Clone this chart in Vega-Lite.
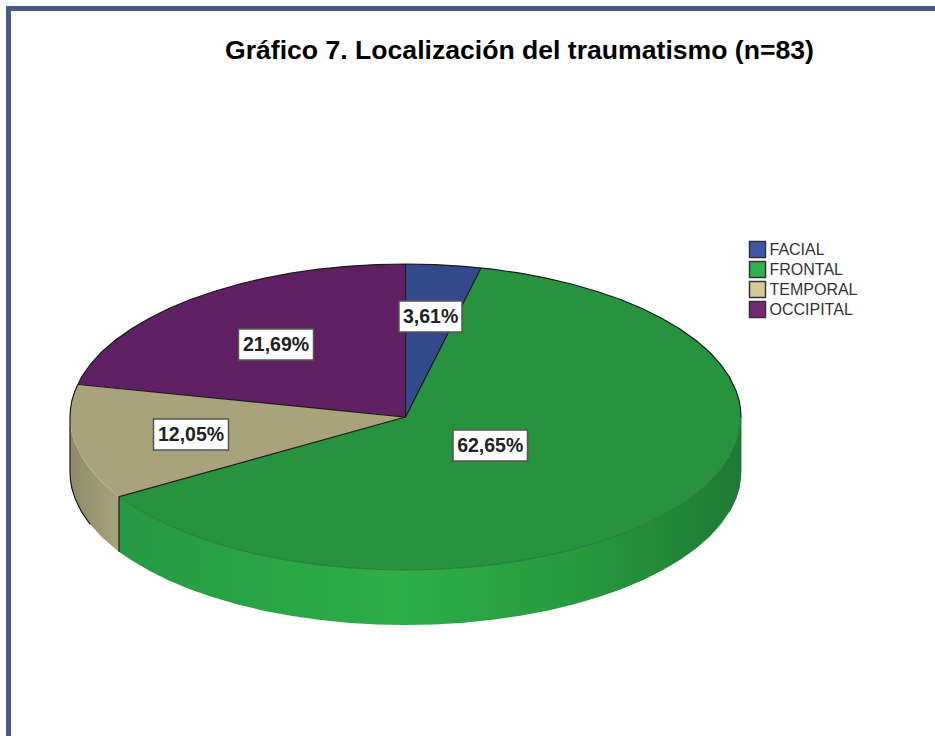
{
"$schema":"https://vega.github.io/schema/vega-lite/v6.json",
"width":935,"height":736,"padding":0,"autosize":{"type":"none"},
"background":"white",
"view":{"stroke":null},
"title":{"text":"Gráfico 7. Localización del traumatismo (n=83)","anchor":"start","frame":"group","orient":"top","offset":-65,"dx":225,"font":"Liberation Sans","fontSize":26.6,"fontWeight":"bold","color":"#000000"},
"config":{"axis":{"domain":false,"ticks":false,"labels":false,"grid":false,"title":null}},
"datasets":{
"frame":[{"x":8.5,"x2":960,"y":8.5,"y2":770}],
"shares":[
{"sector":"FACIAL","label":"3,61%","lx":430.6,"ly":316.5,"bx":399,"bx2":462,"by":301,"by2":332},
{"sector":"FRONTAL","label":"62,65%","lx":490.2,"ly":445.5,"bx":453,"bx2":527.5,"by":430,"by2":461},
{"sector":"TEMPORAL","label":"12,05%","lx":191,"ly":434.5,"bx":153.5,"bx2":228.5,"by":419,"by2":450},
{"sector":"OCCIPITAL","label":"21,69%","lx":276,"ly":344.5,"bx":238.5,"bx2":313.5,"by":329,"by2":360}
],
"walls":[
{"w":"TEMPORAL","x":70,"y":417,"y2":472},{"w":"TEMPORAL","x":70.5,"y":425,"y2":480},{"w":"TEMPORAL","x":71.8,"y":433,"y2":488},{"w":"TEMPORAL","x":75.1,"y":443.6,"y2":498.6},{"w":"TEMPORAL","x":81.4,"y":456.6,"y2":511.6},{"w":"TEMPORAL","x":90.2,"y":469.3,"y2":524.3},{"w":"TEMPORAL","x":101.4,"y":481.7,"y2":536.7},{"w":"TEMPORAL","x":114.9,"y":493.5,"y2":548.5},{"w":"TEMPORAL","x":119,"y":496.7,"y2":551.7},
{"w":"FRONTAL","x":119,"y":496.7,"y2":551.7},{"w":"FRONTAL","x":130.7,"y":504.8,"y2":559.8},{"w":"FRONTAL","x":148.5,"y":515.3,"y2":570.3},{"w":"FRONTAL","x":168.3,"y":525.2,"y2":580.2},{"w":"FRONTAL","x":189.8,"y":534.2,"y2":589.2},{"w":"FRONTAL","x":213.1,"y":542.3,"y2":597.3},{"w":"FRONTAL","x":237.7,"y":549.5,"y2":604.5},{"w":"FRONTAL","x":263.7,"y":555.7,"y2":610.7},{"w":"FRONTAL","x":290.8,"y":560.8,"y2":615.8},{"w":"FRONTAL","x":318.7,"y":564.8,"y2":619.8},{"w":"FRONTAL","x":347.2,"y":567.7,"y2":622.7},{"w":"FRONTAL","x":376.3,"y":569.4,"y2":624.4},{"w":"FRONTAL","x":405.5,"y":570,"y2":625},{"w":"FRONTAL","x":434.7,"y":569.4,"y2":624.4},{"w":"FRONTAL","x":463.8,"y":567.7,"y2":622.7},{"w":"FRONTAL","x":492.3,"y":564.8,"y2":619.8},{"w":"FRONTAL","x":520.2,"y":560.8,"y2":615.8},{"w":"FRONTAL","x":547.3,"y":555.7,"y2":610.7},{"w":"FRONTAL","x":573.3,"y":549.5,"y2":604.5},{"w":"FRONTAL","x":597.9,"y":542.3,"y2":597.3},{"w":"FRONTAL","x":621.2,"y":534.2,"y2":589.2},{"w":"FRONTAL","x":642.7,"y":525.2,"y2":580.2},{"w":"FRONTAL","x":662.5,"y":515.3,"y2":570.3},{"w":"FRONTAL","x":680.3,"y":504.8,"y2":559.8},{"w":"FRONTAL","x":696.1,"y":493.5,"y2":548.5},{"w":"FRONTAL","x":709.6,"y":481.7,"y2":536.7},{"w":"FRONTAL","x":720.8,"y":469.3,"y2":524.3},{"w":"FRONTAL","x":729.6,"y":456.6,"y2":511.6},{"w":"FRONTAL","x":735.9,"y":443.6,"y2":498.6},{"w":"FRONTAL","x":739.2,"y":433,"y2":488},{"w":"FRONTAL","x":740.5,"y":425,"y2":480},{"w":"FRONTAL","x":741,"y":417,"y2":472}
],
"slices":[
{"sector":"OCCIPITAL","x":78.3,"y":384.5,"y2":384.5},{"sector":"OCCIPITAL","x":81.4,"y":377.4,"y2":384.8},{"sector":"OCCIPITAL","x":90.2,"y":364.7,"y2":385.7},{"sector":"OCCIPITAL","x":101.4,"y":352.3,"y2":386.8},{"sector":"OCCIPITAL","x":114.9,"y":340.5,"y2":388.1},{"sector":"OCCIPITAL","x":130.7,"y":329.2,"y2":389.7},{"sector":"OCCIPITAL","x":148.5,"y":318.7,"y2":391.5},{"sector":"OCCIPITAL","x":168.3,"y":308.8,"y2":393.4},{"sector":"OCCIPITAL","x":189.8,"y":299.8,"y2":395.6},{"sector":"OCCIPITAL","x":213.1,"y":291.7,"y2":397.9},{"sector":"OCCIPITAL","x":237.7,"y":284.5,"y2":400.3},{"sector":"OCCIPITAL","x":263.7,"y":278.3,"y2":402.9},{"sector":"OCCIPITAL","x":290.8,"y":273.2,"y2":405.6},{"sector":"OCCIPITAL","x":318.7,"y":269.2,"y2":408.4},{"sector":"OCCIPITAL","x":347.2,"y":266.3,"y2":411.2},{"sector":"OCCIPITAL","x":376.3,"y":264.6,"y2":414.1},{"sector":"OCCIPITAL","x":405.5,"y":264,"y2":417},
{"sector":"FACIAL","x":405.5,"y":264,"y2":417},{"sector":"FACIAL","x":434.7,"y":264.6,"y2":359.4},{"sector":"FACIAL","x":463.8,"y":266.3,"y2":302},{"sector":"FACIAL","x":481,"y":268,"y2":268},
{"sector":"TEMPORAL","x":70,"y":417,"y2":417},{"sector":"TEMPORAL","x":70.5,"y":409,"y2":425},{"sector":"TEMPORAL","x":71.8,"y":401,"y2":433},{"sector":"TEMPORAL","x":75.1,"y":390.4,"y2":443.6},{"sector":"TEMPORAL","x":78.3,"y":384.5,"y2":450},{"sector":"TEMPORAL","x":81.4,"y":384.8,"y2":456.6},{"sector":"TEMPORAL","x":90.2,"y":385.7,"y2":469.3},{"sector":"TEMPORAL","x":101.4,"y":386.8,"y2":481.7},{"sector":"TEMPORAL","x":114.9,"y":388.1,"y2":493.5},{"sector":"TEMPORAL","x":119,"y":388.5,"y2":496.7},{"sector":"TEMPORAL","x":130.7,"y":389.7,"y2":493.4},{"sector":"TEMPORAL","x":168.3,"y":393.4,"y2":483},{"sector":"TEMPORAL","x":213.1,"y":397.9,"y2":470.5},{"sector":"TEMPORAL","x":263.7,"y":402.9,"y2":456.4},{"sector":"TEMPORAL","x":318.7,"y":408.4,"y2":441.1},{"sector":"TEMPORAL","x":405.5,"y":417,"y2":417},
{"sector":"FRONTAL","x":119,"y":496.7,"y2":496.7},{"sector":"FRONTAL","x":130.7,"y":493.4,"y2":504.8},{"sector":"FRONTAL","x":148.5,"y":488.5,"y2":515.3},{"sector":"FRONTAL","x":168.3,"y":483,"y2":525.2},{"sector":"FRONTAL","x":189.8,"y":477,"y2":534.2},{"sector":"FRONTAL","x":213.1,"y":470.5,"y2":542.3},{"sector":"FRONTAL","x":237.7,"y":463.7,"y2":549.5},{"sector":"FRONTAL","x":263.7,"y":456.4,"y2":555.7},{"sector":"FRONTAL","x":290.8,"y":448.9,"y2":560.8},{"sector":"FRONTAL","x":318.7,"y":441.1,"y2":564.8},{"sector":"FRONTAL","x":347.2,"y":433.2,"y2":567.7},{"sector":"FRONTAL","x":376.3,"y":425.1,"y2":569.4},{"sector":"FRONTAL","x":405.5,"y":417,"y2":570},{"sector":"FRONTAL","x":434.7,"y":359.4,"y2":569.4},{"sector":"FRONTAL","x":463.8,"y":302,"y2":567.7},{"sector":"FRONTAL","x":481,"y":268,"y2":566.1},{"sector":"FRONTAL","x":492.3,"y":269.2,"y2":564.8},{"sector":"FRONTAL","x":520.2,"y":273.2,"y2":560.8},{"sector":"FRONTAL","x":547.3,"y":278.3,"y2":555.7},{"sector":"FRONTAL","x":573.3,"y":284.5,"y2":549.5},{"sector":"FRONTAL","x":597.9,"y":291.7,"y2":542.3},{"sector":"FRONTAL","x":621.2,"y":299.8,"y2":534.2},{"sector":"FRONTAL","x":642.7,"y":308.8,"y2":525.2},{"sector":"FRONTAL","x":662.5,"y":318.7,"y2":515.3},{"sector":"FRONTAL","x":680.3,"y":329.2,"y2":504.8},{"sector":"FRONTAL","x":696.1,"y":340.5,"y2":493.5},{"sector":"FRONTAL","x":709.6,"y":352.3,"y2":481.7},{"sector":"FRONTAL","x":720.8,"y":364.7,"y2":469.3},{"sector":"FRONTAL","x":729.6,"y":377.4,"y2":456.6},{"sector":"FRONTAL","x":735.9,"y":390.4,"y2":443.6},{"sector":"FRONTAL","x":739.2,"y":401,"y2":433},{"sector":"FRONTAL","x":740.5,"y":409,"y2":425},{"sector":"FRONTAL","x":741,"y":417,"y2":417}
],
"edges":[
{"e":"rim","i":1,"x":70,"y":417},{"e":"rim","i":2,"x":70.5,"y":409},{"e":"rim","i":3,"x":71.8,"y":401},{"e":"rim","i":4,"x":75.1,"y":390.4},{"e":"rim","i":5,"x":81.4,"y":377.4},{"e":"rim","i":6,"x":90.2,"y":364.7},{"e":"rim","i":7,"x":101.4,"y":352.3},{"e":"rim","i":8,"x":114.9,"y":340.5},{"e":"rim","i":9,"x":130.7,"y":329.2},{"e":"rim","i":10,"x":148.5,"y":318.7},{"e":"rim","i":11,"x":168.3,"y":308.8},{"e":"rim","i":12,"x":189.8,"y":299.8},{"e":"rim","i":13,"x":213.1,"y":291.7},{"e":"rim","i":14,"x":237.7,"y":284.5},{"e":"rim","i":15,"x":263.7,"y":278.3},{"e":"rim","i":16,"x":290.8,"y":273.2},{"e":"rim","i":17,"x":318.7,"y":269.2},{"e":"rim","i":18,"x":347.2,"y":266.3},{"e":"rim","i":19,"x":376.3,"y":264.6},{"e":"rim","i":20,"x":405.5,"y":264},{"e":"rim","i":21,"x":434.7,"y":264.6},{"e":"rim","i":22,"x":463.8,"y":266.3},{"e":"rim","i":23,"x":492.3,"y":269.2},{"e":"rim","i":24,"x":520.2,"y":273.2},{"e":"rim","i":25,"x":547.3,"y":278.3},{"e":"rim","i":26,"x":573.3,"y":284.5},{"e":"rim","i":27,"x":597.9,"y":291.7},{"e":"rim","i":28,"x":621.2,"y":299.8},{"e":"rim","i":29,"x":642.7,"y":308.8},{"e":"rim","i":30,"x":662.5,"y":318.7},{"e":"rim","i":31,"x":680.3,"y":329.2},{"e":"rim","i":32,"x":696.1,"y":340.5},{"e":"rim","i":33,"x":709.6,"y":352.3},{"e":"rim","i":34,"x":720.8,"y":364.7},{"e":"rim","i":35,"x":729.6,"y":377.4},{"e":"rim","i":36,"x":735.9,"y":390.4},{"e":"rim","i":37,"x":739.2,"y":401},{"e":"rim","i":38,"x":740.5,"y":409},{"e":"rim","i":39,"x":741,"y":417},
{"e":"a","i":1,"x":78.3,"y":384.5},{"e":"a","i":2,"x":405.5,"y":417},{"e":"a","i":3,"x":481,"y":268},
{"e":"b","i":1,"x":405.5,"y":264},{"e":"b","i":2,"x":405.5,"y":417},
{"e":"c","i":1,"x":405.5,"y":417},{"e":"c","i":2,"x":119,"y":496.7},{"e":"c","i":3,"x":119,"y":551.7},
{"e":"d","i":1,"x":70,"y":417},{"e":"d","i":2,"x":70,"y":472},{"e":"d","i":3,"x":70.5,"y":480},{"e":"d","i":4,"x":71.8,"y":488},{"e":"d","i":5,"x":75.1,"y":498.6},{"e":"d","i":6,"x":81.4,"y":511.6},{"e":"d","i":7,"x":90.2,"y":524.3}
],
"greenrim":[
{"i":1,"x":119,"y":496.7},{"i":2,"x":130.7,"y":504.8},{"i":3,"x":148.5,"y":515.3},{"i":4,"x":168.3,"y":525.2},{"i":5,"x":189.8,"y":534.2},{"i":6,"x":213.1,"y":542.3},{"i":7,"x":237.7,"y":549.5},{"i":8,"x":263.7,"y":555.7},{"i":9,"x":290.8,"y":560.8},{"i":10,"x":318.7,"y":564.8},{"i":11,"x":347.2,"y":567.7},{"i":12,"x":376.3,"y":569.4},{"i":13,"x":405.5,"y":570},{"i":14,"x":434.7,"y":569.4},{"i":15,"x":463.8,"y":567.7},{"i":16,"x":492.3,"y":564.8},{"i":17,"x":520.2,"y":560.8},{"i":18,"x":547.3,"y":555.7},{"i":19,"x":573.3,"y":549.5},{"i":20,"x":597.9,"y":542.3},{"i":21,"x":621.2,"y":534.2},{"i":22,"x":642.7,"y":525.2},{"i":23,"x":662.5,"y":515.3},{"i":24,"x":680.3,"y":504.8},{"i":25,"x":696.1,"y":493.5},{"i":26,"x":709.6,"y":481.7},{"i":27,"x":720.8,"y":469.3},{"i":28,"x":729.6,"y":456.6},{"i":29,"x":735.9,"y":443.6},{"i":30,"x":739.2,"y":433},{"i":31,"x":741,"y":417},{"i":32,"x":741,"y":472},{"i":33,"x":739.2,"y":488},{"i":34,"x":735.9,"y":498.6},{"i":35,"x":729.6,"y":511.6}
]
},
"data":{"name":"shares"},
"layer":[
{"mark":{"type":"point","filled":true,"size":1,"shape":"square"},
 "encoding":{
  "x":{"field":"lx","type":"quantitative","scale":{"domain":[0,935],"nice":false,"zero":false},"axis":null},
  "y":{"field":"ly","type":"quantitative","scale":{"domain":[736,0],"nice":false,"zero":false},"axis":null},
  "color":{"field":"sector","type":"nominal","sort":["FACIAL","FRONTAL","TEMPORAL","OCCIPITAL"],
   "scale":{"domain":["FACIAL","FRONTAL","TEMPORAL","OCCIPITAL"],"range":["#3b57a8","#2eb34d","#d3cc94","#742a79"]},
   "legend":{"title":null,"orient":"none","legendX":748.5,"legendY":240.5,"symbolType":"square","symbolSize":256,"symbolStrokeColor":"#333333","symbolStrokeWidth":1.5,"symbolOpacity":1,"labelFont":"Liberation Sans","labelFontSize":16,"labelColor":"#333333","labelOffset":3,"rowPadding":-2,"padding":0}}
 }},
{"data":{"name":"walls"},"transform":[{"filter":"datum.w==='TEMPORAL'"}],
 "mark":{"type":"area","fill":{"gradient":"linear","x1":0,"x2":1,"y1":0,"y2":0,"stops":[{"offset":0,"color":"#8f8a68"},{"offset":1,"color":"#a9a37b"}]}},
 "encoding":{"x":{"field":"x","type":"quantitative"},"y":{"field":"y","type":"quantitative"},"y2":{"field":"y2"}}},
{"data":{"name":"walls"},"transform":[{"filter":"datum.w==='FRONTAL'"}],
 "mark":{"type":"area","fill":{"gradient":"linear","x1":0,"x2":1,"y1":0,"y2":0,"stops":[{"offset":0,"color":"#269a42"},{"offset":0.45,"color":"#2cae49"},{"offset":0.75,"color":"#28983f"},{"offset":1,"color":"#1e7a34"}]}},
 "encoding":{"x":{"field":"x","type":"quantitative"},"y":{"field":"y","type":"quantitative"},"y2":{"field":"y2"}}},
{"data":{"name":"slices"},"mark":{"type":"area"},
 "encoding":{"x":{"field":"x","type":"quantitative"},"y":{"field":"y","type":"quantitative"},"y2":{"field":"y2"},
  "fill":{"field":"sector","type":"nominal","legend":null,"scale":{"domain":["FACIAL","FRONTAL","TEMPORAL","OCCIPITAL"],"range":["#324a8b","#28933f","#a9a37b","#5f2063"]}}}},
{"data":{"name":"greenrim"},"mark":{"type":"line","stroke":"#1c6f30","strokeWidth":0.8},
 "encoding":{"x":{"field":"x","type":"quantitative"},"y":{"field":"y","type":"quantitative"},"order":{"field":"i"}}},
{"data":{"name":"edges"},"mark":{"type":"line","stroke":"#1a1a1a","strokeWidth":1.2},
 "encoding":{"x":{"field":"x","type":"quantitative"},"y":{"field":"y","type":"quantitative"},"detail":{"field":"e"},"order":{"field":"i"}}},
{"mark":{"type":"rect","fill":"#ffffff","stroke":"#555555","strokeWidth":1.5},
 "encoding":{"x":{"field":"bx","type":"quantitative"},"x2":{"field":"bx2"},"y":{"field":"by","type":"quantitative"},"y2":{"field":"by2"}}},
{"mark":{"type":"text","font":"Liberation Sans","fontWeight":"bold","fontSize":19.5,"color":"#222222","align":"center","baseline":"middle"},
 "encoding":{"x":{"field":"lx","type":"quantitative"},"y":{"field":"ly","type":"quantitative"},"text":{"field":"label"}}},
{"data":{"name":"frame"},"mark":{"type":"rect","fill":null,"stroke":"#46598a","strokeWidth":5,"clip":false},
 "encoding":{"x":{"field":"x","type":"quantitative"},"x2":{"field":"x2"},"y":{"field":"y","type":"quantitative"},"y2":{"field":"y2"}}}
]
}
